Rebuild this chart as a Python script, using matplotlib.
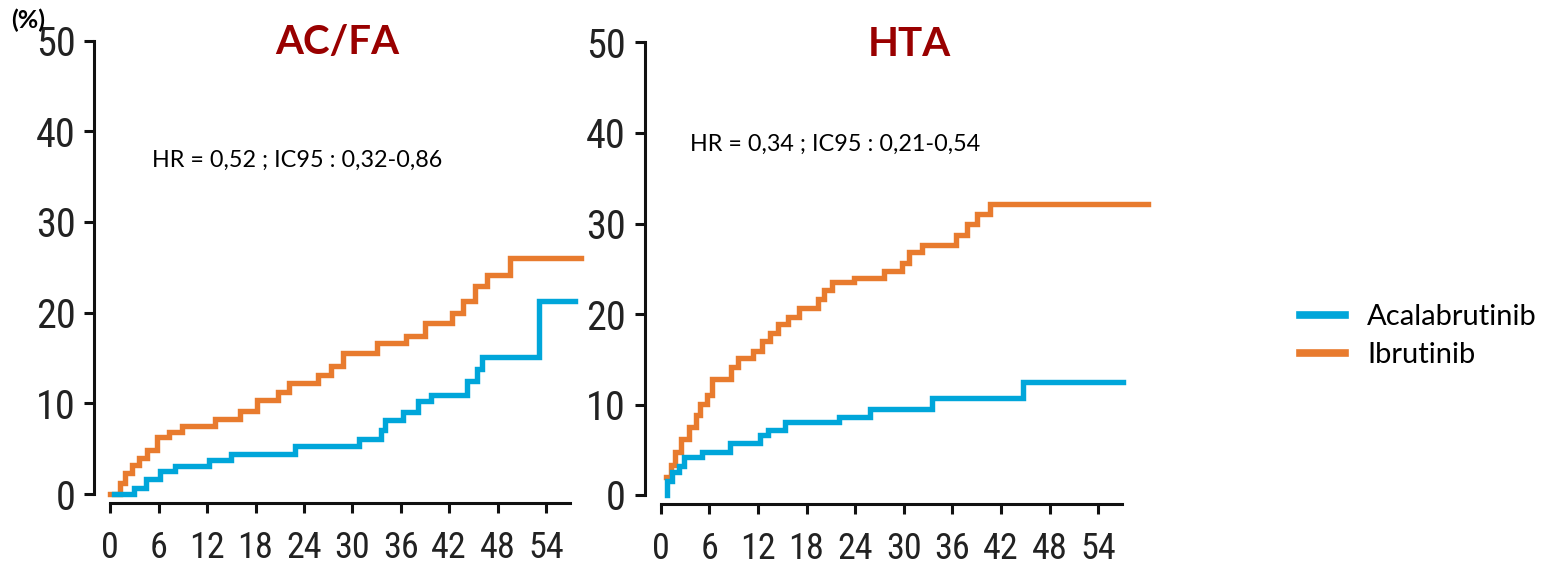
import matplotlib
matplotlib.use("Agg")
import matplotlib.pyplot as plt
from matplotlib import font_manager
from matplotlib.font_manager import FontProperties
from matplotlib.lines import Line2D

# ---- data: cumulative incidence (%) by month ----
months_ticks = [0, 6, 12, 18, 24, 30, 36, 42, 48, 54]
pct_ticks = [0, 10, 20, 30, 40, 50]

# AC/FA panel
acfa_ibru_t = [0, 1.2, 1.8, 2.7, 3.55, 4.5, 5.8, 7.3, 8.9, 13.0, 16.1, 18.2, 20.8, 22.2,
               25.7, 27.4, 28.8, 33.0, 36.6, 39.0, 42.3, 43.7, 45.2, 46.7, 49.5, 58.3]
acfa_ibru_y = [0, 1.25, 2.3, 3.2, 4.0, 4.9, 6.25, 6.8, 7.5, 8.3, 9.1, 10.4, 11.2, 12.2,
               13.1, 14.1, 15.5, 16.7, 17.4, 18.9, 20.0, 21.3, 22.9, 24.2, 26.0, 26.0]
acfa_acala_t = [0.4, 2.9, 4.4, 6.1, 8.0, 12.2, 14.9, 22.9, 30.8, 33.5, 34.0, 36.3, 38.1,
                39.8, 44.2, 45.4, 46.0, 53.1, 57.6]
acfa_acala_y = [0, 0.7, 1.7, 2.5, 3.1, 3.7, 4.4, 5.3, 6.1, 7.1, 8.2, 9.0, 10.3,
                10.9, 12.5, 13.75, 15.1, 21.3, 21.3]

# HTA panel
hta_ibru_t = [0.66, 1.27, 1.77, 2.46, 3.5, 4.3, 4.85, 5.67, 6.3, 8.7, 9.6, 11.4, 12.5,
              13.5, 14.5, 15.7, 17.1, 19.4, 20.2, 21.1, 23.9, 27.6, 29.8, 30.7, 32.3,
              36.5, 37.8, 39.1, 40.6, 60.1]
hta_ibru_y = [2.0, 3.3, 4.8, 6.2, 7.5, 8.8, 10.1, 11.1, 12.8, 14.1, 15.1, 15.9, 17.0,
              17.9, 18.9, 19.7, 20.7, 21.7, 22.6, 23.5, 24.0, 24.7, 25.6, 26.8, 27.6,
              28.7, 29.9, 31.1, 32.2, 32.2]
hta_acala_t = [0.74, 1.44, 2.3, 2.9, 5.05, 8.5, 12.3, 13.2, 15.4, 22.0, 25.9, 33.5,
               44.7, 57.1]
hta_acala_y = [1.5, 2.5, 3.2, 4.2, 4.7, 5.8, 6.6, 7.2, 8.1, 8.6, 9.5, 10.7, 12.5, 12.5]

titles = ["AC/FA", "HTA"]
hr_texts = ["HR = 0,52 ; IC95 : 0,32-0,86", "HR = 0,34 ; IC95 : 0,21-0,54"]
series_names = ["Acalabrutinib", "Ibrutinib"]

# ---- styling ----
C_ACALA = "#00A6DA"
C_IBRU = "#E87B2E"
C_TITLE = "#990000"
available = {f.name for f in font_manager.fontManager.ttflist}
TEXT_FONT = "Lato" if "Lato" in available else "DejaVu Sans"


def pick_tick_font():
    """Prefer a narrow/condensed sans face for the axis numbers."""
    best = None
    for f in font_manager.fontManager.ttflist:
        name = f.name.lower()
        if "serif" in name or "mono" in name or f.weight not in (400, "normal", "regular"):
            continue
        if f.style != "normal":
            continue
        fn = f.fname.lower()
        narrow = ("narrow" in name or "condensed" in name or "narrow" in fn
                  or "condensed" in fn or str(f.stretch) in ("condensed", "semi-condensed"))
        if not narrow:
            continue
        score = 0
        if "liberation" in name or "liberation" in fn:
            score = 3
        elif "roboto" in fn:
            score = 2
        elif "dejavu" in fn:
            score = 1
        if best is None or score > best[0]:
            best = (score, f.fname)
    if best is not None:
        return FontProperties(fname=best[1])
    return FontProperties(family="Liberation Sans")


TICK_FP = pick_tick_font()

W, H = 1560, 567
fig = plt.figure(figsize=(W / 100, H / 100), dpi=100)

XLIM = (-2, 61)
YLIM = (-1, 51)


def make_axes(x0_px, y0_px, px_per_month, px_per_pct):
    left = x0_px + XLIM[0] * px_per_month
    width = (XLIM[1] - XLIM[0]) * px_per_month
    bottom_px = y0_px - YLIM[0] * px_per_pct
    height = (YLIM[1] - YLIM[0]) * px_per_pct
    ax = fig.add_axes([left / W, (H - bottom_px) / H, width / W, height / H])
    ax.set_xlim(*XLIM)
    ax.set_ylim(*YLIM)
    ax.patch.set_alpha(0)
    for s in ("top", "right"):
        ax.spines[s].set_visible(False)
    ax.spines["left"].set_bounds(0, 50)
    ax.spines["bottom"].set_bounds(0, 57)
    for s in ("left", "bottom"):
        ax.spines[s].set_linewidth(2.2)
        ax.spines[s].set_color("#111111")
    ax.set_xticks(months_ticks)
    ax.set_yticks(pct_ticks)
    ax.tick_params(axis="both", direction="out", width=2.2, color="#111111",
                   labelcolor="#222222")
    ax.tick_params(axis="x", length=7.5, pad=12)
    ax.tick_params(axis="y", length=7.5, pad=6)
    for lab in ax.get_xticklabels():
        lab.set_fontproperties(TICK_FP)
        lab.set_fontsize(26)
    for lab in ax.get_yticklabels():
        lab.set_fontproperties(TICK_FP)
        lab.set_fontsize(29)
    return ax


ax1 = make_axes(110.3, 494.0, 8.07, 9.07)
ax2 = make_axes(660.7, 495.0, 8.10, 9.05)

LW = 3.9
panels = [
    (ax1, acfa_acala_t, acfa_acala_y, acfa_ibru_t, acfa_ibru_y),
    (ax2, hta_acala_t, hta_acala_y, hta_ibru_t, hta_ibru_y),
]
for ax, at, ay, it, iy in panels:
    ax.step(it, iy, where="post", color=C_IBRU, lw=LW, solid_joinstyle="miter",
            clip_on=False, zorder=3)
    # the acalabrutinib curve starts from zero at its first time point
    ax.step([at[0]] + at, [0] + ay, where="post", color=C_ACALA, lw=LW,
            solid_joinstyle="miter", clip_on=False, zorder=4)

# Titles and hazard ratios
fig.text(337.5 / W, 1 - 43 / H, titles[0], color=C_TITLE, family=TEXT_FONT,
         weight="bold", fontsize=29, ha="center", va="center")
fig.text(909 / W, 1 - 45 / H, titles[1], color=C_TITLE, family=TEXT_FONT,
         weight="bold", fontsize=29, ha="center", va="center")
fig.text(152 / W, 1 - 160 / H, hr_texts[0], color="black", family=TEXT_FONT,
         fontsize=16.8, ha="left", va="center")
fig.text(690 / W, 1 - 144 / H, hr_texts[1], color="black", family=TEXT_FONT,
         fontsize=16.8, ha="left", va="center")

# Unit label
fig.text(11 / W, 1 - 20 / H, "(%)", color="black", family=TEXT_FONT, weight="bold",
         fontsize=18, ha="left", va="center")

# Legend
handles = [Line2D([], [], color=C_ACALA, lw=5.5), Line2D([], [], color=C_IBRU, lw=5.5)]
fig.legend(handles, series_names, loc="center left",
           bbox_to_anchor=(1300 / W, 1 - 336 / H), frameon=False,
           prop={"family": TEXT_FONT, "size": 21}, handlelength=1.55,
           handletextpad=0.75, labelspacing=0.4, borderpad=0, borderaxespad=0)

fig.savefig("out.png", dpi=100)
